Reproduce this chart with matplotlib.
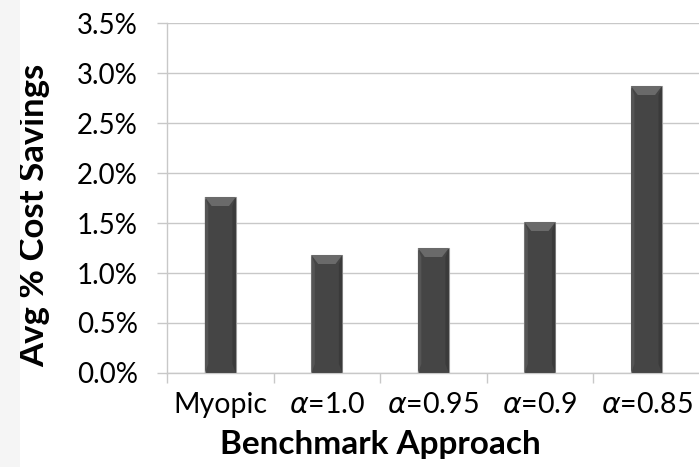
import matplotlib
matplotlib.use('Agg')
import matplotlib.pyplot as plt
import numpy as np
from matplotlib.patches import Polygon, Rectangle

# 各基准方法的平均成本节省 (%)
approaches = ['Myopic', r'$\alpha$=1.0', r'$\alpha$=0.95', r'$\alpha$=0.9', r'$\alpha$=0.85']
savings = [1.76, 1.18, 1.25, 1.51, 2.87]
yticks = [0.0, 0.5, 1.0, 1.5, 2.0, 2.5, 3.0, 3.5]

plt.rcParams['font.family'] = ['Lato', 'DejaVu Sans']

fig = plt.figure(figsize=(6.99, 4.67), dpi=100)
# 左侧浅灰色边条
fig.patches.append(Rectangle((0, 0), 0.028, 1, transform=fig.transFigure,
                             facecolor='#f5f5f5', edgecolor='none', zorder=0))
ax = fig.add_axes([0.239, 0.2013, 0.762, 0.7494])

x = np.arange(len(approaches))
width = 0.29
bars = ax.bar(x, savings, width=width, color='#454545', edgecolor='#9a9a9a',
              linewidth=0.8, zorder=3)

# 简单的斜面高光效果
for b in bars:
    x0, w, h = b.get_x(), b.get_width(), b.get_height()
    dx = w * 0.22
    dy = 0.09
    top = Polygon([(x0, h), (x0 + w, h), (x0 + w - dx, h - dy), (x0 + dx, h - dy)],
                  closed=True, facecolor='#6a6a6a', edgecolor='none', zorder=4)
    ax.add_patch(top)
    left = Polygon([(x0, 0), (x0, h), (x0 + dx * 0.5, h - dy), (x0 + dx * 0.5, dy)],
                   closed=True, facecolor='#555555', edgecolor='none', zorder=4)
    ax.add_patch(left)
    right = Polygon([(x0 + w, 0), (x0 + w, h), (x0 + w - dx * 0.5, h - dy), (x0 + w - dx * 0.5, dy)],
                    closed=True, facecolor='#3a3a3a', edgecolor='none', zorder=4)
    ax.add_patch(right)

ax.set_xlim(-0.5, len(approaches) - 0.5)
ax.set_ylim(0, 3.5)
ax.set_yticks(yticks)
ax.set_yticklabels([f'{v:.1f}%' for v in yticks])
ax.yaxis.grid(True, color='#c8c8c8', linewidth=1.0, zorder=0)
ax.set_axisbelow(True)

ax.set_xticks(x)
ax.set_xticklabels(approaches)
ax.set_xticks(np.arange(len(approaches) + 1) - 0.5, minor=True)
ax.tick_params(axis='x', which='major', length=0, pad=14, labelsize=20.5)
ax.tick_params(axis='x', which='minor', length=7, color='#c8c8c8', width=1, direction='out')
ax.tick_params(axis='y', length=7, color='#c8c8c8', width=1, labelsize=20, pad=14)

for s in ['top', 'right']:
    ax.spines[s].set_visible(False)
for s in ['left', 'bottom']:
    ax.spines[s].set_color('#c8c8c8')
    ax.spines[s].set_linewidth(1)

ax.set_ylabel('Avg % Cost Savings', fontsize=25, fontweight='bold', va='center')
ax.yaxis.set_label_coords(-0.25, 0.451)
ax.set_xlabel('Benchmark Approach', fontsize=24, fontweight='bold')
ax.xaxis.set_label_coords(0.40, -0.162)

fig.savefig('out.png', dpi=100)
